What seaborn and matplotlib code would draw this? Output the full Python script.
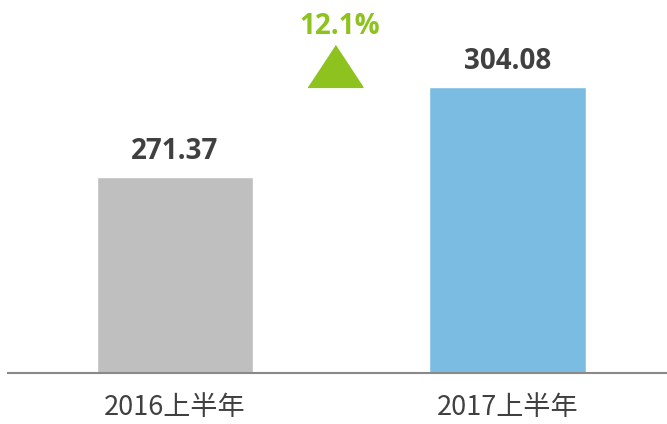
import pandas as pd
import matplotlib
matplotlib.use("Agg")
import matplotlib.pyplot as plt
import seaborn as sns

# data
periods = ['2016上半年', '2017上半年']
values = [271.37, 304.08]
bar_colors = ['#BFBFBF', '#7BBCE2']

growth = (values[1] / values[0] - 1) * 100

sns.set_style('white')
plt.rcParams['font.family'] = ['Noto Sans CJK SC', 'DejaVu Sans']

df = pd.DataFrame({'period': periods, 'value': values})

fig = plt.figure(figsize=(6.67, 4.24), dpi=100)
ax = fig.add_axes([8 / 667, 51 / 424, 659 / 667, 373 / 424])

sns.barplot(data=df, x='period', y='value', hue='period', palette=bar_colors,
            width=0.47, legend=False, ax=ax, saturation=1)

ax.set_ylim(200, 335.6)
ax.set_xlim(-0.502, 1.48)

# value labels above bars
for i, v in enumerate(values):
    ax.annotate(f'{v:.2f}', xy=(i, v), xytext=(0, 13), textcoords='offset points',
                ha='center', va='baseline', fontsize=20, fontweight='bold',
                color='#404040', family=['Open Sans', 'DejaVu Sans'])

# growth marker between the bars
tri = [(-1, -0.76), (1, -0.76), (0, 0.76)]
ax.plot([0.48], [311.6], marker=tri, markersize=39.6, color='#8DC21F',
        linestyle='none', clip_on=False)
ax.annotate(f'{growth:.1f}%', xy=(0.495, 311.6), xytext=(0, 23),
            textcoords='offset points', ha='center', va='baseline',
            fontsize=20, fontweight='bold', color='#8DC21F',
            family=['Open Sans', 'DejaVu Sans'])

for s in ['top', 'right', 'left']:
    ax.spines[s].set_visible(False)
ax.spines['bottom'].set_color('#898989')
ax.spines['bottom'].set_linewidth(1.5)

ax.set_yticks([])
ax.set_xlabel('')
ax.set_ylabel('')
ax.tick_params(axis='x', length=0, pad=15, labelsize=19.5, labelcolor='#404040')

fig.savefig('out.png', dpi=100)
